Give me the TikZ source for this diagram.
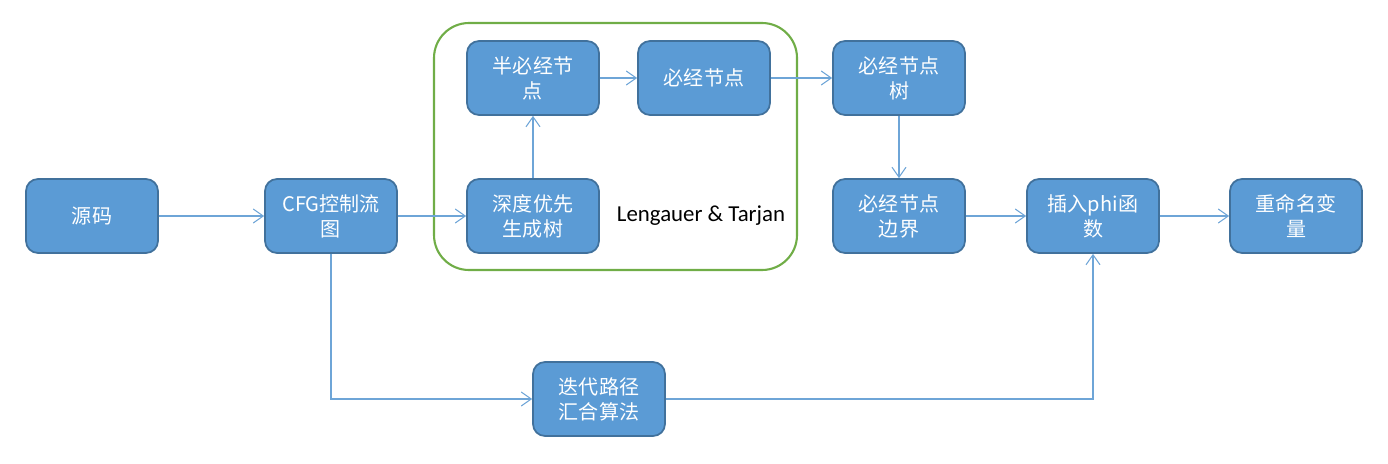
\documentclass[tikz,border=0pt]{standalone}
\usepackage{fontspec}
\setmainfont{Carlito}
\newfontfamily\cjk{Noto Sans CJK SC}
\usepackage{tikz}
\usetikzlibrary{positioning,arrows.meta}
\definecolor{BoxBlue}{RGB}{91,155,213}
\definecolor{BoxEdge}{RGB}{65,113,156}
\definecolor{LinkBlue}{RGB}{110,165,215}
\definecolor{GroupGreen}{RGB}{112,173,71}
\tikzset{
    stepbox/.style={rectangle, rounded corners=0.24cm, draw=BoxEdge, fill=BoxBlue, line width=1pt,
        minimum width=2.64cm, minimum height=1.48cm, inner sep=0pt, align=center,
        text=white, font=\cjk\fontsize{11.4}{14.2}\selectfont},
    link/.style={draw=LinkBlue, line width=0.6pt, -{Straight Barb[length=2mm,width=2.8mm]}},
    groupbox/.style={draw=GroupGreen, line width=1.2pt, rounded corners=0.7cm}
}

\begin{document}
\begin{tikzpicture}[x=0.02cm, y=-0.02cm]
    \useasboundingbox (0,0) rectangle (1388,463);

    % Lengauer-Tarjan group
    \draw[groupbox] (434,23) rectangle (797,270);
    \node[font=\fontsize{13}{15}\selectfont] (lt) at (701,216) {Lengauer \& Tarjan};

    % boxes
    \node[stepbox] (src) at (92,216) {源码};
    \node[stepbox] (cfg) at (331,216) {CFG控制流\\图};
    \node[stepbox] (dfs) at (533,216) {深度优先\\生成树};
    \node[stepbox] (sdom) at (533,78) {半必经节\\点};
    \node[stepbox] (idom) at (704,78) {必经节点};
    \node[stepbox] (dtree) at (899,78) {必经节点\\树};
    \node[stepbox] (df) at (899,216) {必经节点\\边界};
    \node[stepbox] (phi) at (1093,216) {插入phi函\\数};
    \node[stepbox] (ren) at (1296,216) {重命名变\\量};
    \node[stepbox] (iter) at (599,399) {迭代路径\\汇合算法};

    % arrows
    \draw[link] (src) -- (cfg);
    \draw[link] (cfg) -- (dfs);
    \draw[link] (dfs) -- (sdom);
    \draw[link] (sdom) -- (idom);
    \draw[link] (idom) -- (dtree);
    \draw[link] (dtree) -- (df);
    \draw[link] (df) -- (phi);
    \draw[link] (phi) -- (ren);
    \draw[link] (cfg) |- (iter);
    \draw[link] (iter) -| (phi);
\end{tikzpicture}
\end{document}
